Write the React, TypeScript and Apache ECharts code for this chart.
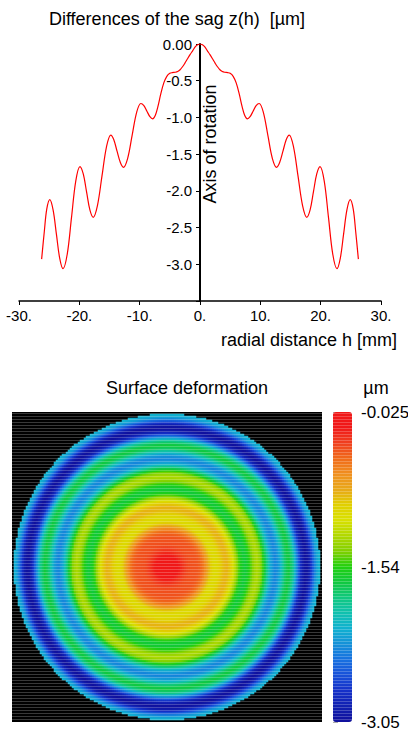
import React, { useEffect, useRef } from 'react';
import * as echarts from 'echarts';

// Profile of the sag difference z(h) [µm] versus radial distance h [mm]
const sagLeftH = [-26.25, -25.8, -25.4, -24.9, -24.35, -23.8, -23.25, -22.7, -22.0, -21.3, -20.6, -19.9, -19.35, -18.8, -18.25, -17.7, -17.0, -16.25, -15.5, -14.8, -14.3, -13.75, -13.2, -12.7, -12.0, -11.25, -10.5, -9.8, -9.3, -8.8, -8.3, -7.85, -7.4, -7.0, -6.5, -6.0, -5.5, -5.0, -4.6, -4.1, -3.7, -3.3, -2.9, -2.5, -2.1, -1.65, -1.2, -0.8, -0.4];
const sagLeftZ = [-2.93, -2.55, -2.25, -2.12, -2.26, -2.59, -2.92, -3.06, -2.86, -2.365, -1.87, -1.67, -1.77, -2.015, -2.26, -2.36, -2.2, -1.8, -1.4, -1.24, -1.3, -1.46, -1.615, -1.68, -1.56, -1.245, -0.93, -0.81, -0.84, -0.915, -0.99, -1.02, -0.97, -0.86, -0.68, -0.53, -0.44, -0.4, -0.39, -0.385, -0.375, -0.35, -0.31, -0.26, -0.205, -0.145, -0.09, -0.04, -0.01];
const sagRightH = [0, 0.4, 0.8, 1.2, 1.65, 2.1, 2.5, 2.9, 3.3, 3.7, 4.1, 4.6, 5.0, 5.5, 6.0, 6.5, 7.0, 7.4, 7.85, 8.3, 8.8, 9.3, 9.8, 10.5, 11.25, 12.0, 12.7, 13.2, 13.75, 14.3, 14.8, 15.5, 16.25, 17.0, 17.7, 18.25, 18.8, 19.35, 19.9, 20.6, 21.3, 22.0, 22.7, 23.25, 23.8, 24.35, 24.9, 25.4, 25.8, 26.25];
const sagRightZ = [0, -0.01, -0.04, -0.09, -0.145, -0.205, -0.26, -0.31, -0.35, -0.375, -0.385, -0.39, -0.4, -0.44, -0.53, -0.68, -0.86, -0.97, -1.02, -0.99, -0.915, -0.84, -0.81, -0.93, -1.245, -1.56, -1.68, -1.615, -1.46, -1.3, -1.24, -1.4, -1.8, -2.2, -2.36, -2.26, -2.015, -1.77, -1.67, -1.87, -2.365, -2.86, -3.06, -2.92, -2.59, -2.26, -2.12, -2.25, -2.55, -2.93];

// Axis ticks
const xTicks = { min: -30, max: 30, interval: 10 };
const yTicks = { min: -3.5, max: 0, interval: 0.5 };

// Surface deformation map (rotation of the profile)
const mapCells = 155;
const mapHalfSize = 25.3; // mm, half width of the square
const mapRadius = 24.95; // mm, aperture radius
const colorMin = -3.05;
const colorMax = -0.025;
const colorTicks = [-3.05, -1.54, -0.025];
const colorTickLabels = ['-3.05', '-1.54', '-0.025'];
const colorStops = ['#10109c', '#1020b0', '#1530c8', '#1850d8', '#1870e0', '#1590d8', '#10b0d0', '#10c0b0', '#10c880', '#10c840', '#20d010', '#80d000', '#b0d800', '#d8e000', '#e0d000', '#e8a818', '#f09020', '#f06a1a', '#f04020', '#f01818', '#f01818'];

const FONT = '"Liberation Sans", Arial, Helvetica, sans-serif';

function sagAt(r: number): number {
  for (let k = 1; k < sagRightH.length; k++) {
    if (r <= sagRightH[k]) {
      const t = (r - sagRightH[k - 1]) / (sagRightH[k] - sagRightH[k - 1]);
      return sagRightZ[k - 1] + t * (sagRightZ[k] - sagRightZ[k - 1]);
    }
  }
  return sagRightZ[sagRightZ.length - 1];
}

function buildOption() {
  const lineData: number[][] = [];
  sagLeftH.forEach((h, i) => lineData.push([h, sagLeftZ[i]]));
  sagRightH.forEach((h, i) => lineData.push([h, sagRightZ[i]]));

  const cats: string[] = [];
  for (let i = 0; i < mapCells; i++) cats.push(String(i));
  const heat: number[][] = [];
  const step = (2 * mapHalfSize) / mapCells;
  for (let i = 0; i < mapCells; i++) {
    const u = -mapHalfSize + (i + 0.5) * step;
    for (let j = 0; j < mapCells; j++) {
      const v = -mapHalfSize + (j + 0.5) * step;
      const r = Math.sqrt(u * u + v * v);
      if (r <= mapRadius) heat.push([i, j, sagAt(r)]);
    }
  }

  const stripes: any[] = [];
  for (let y = 413; y < 722; y += 3) {
    stripes.push({
      type: 'line',
      z: 100,
      silent: true,
      shape: { x1: 12, y1: y + 0.5, x2: 322, y2: y + 0.5 },
      style: { stroke: 'rgba(255,255,255,0.22)', lineWidth: 1 },
    });
    stripes.push({
      type: 'line',
      z: 100,
      silent: true,
      shape: { x1: 333, y1: y + 0.5, x2: 352, y2: y + 0.5 },
      style: { stroke: 'rgba(255,255,255,0.22)', lineWidth: 1 },
    });
  }

  const txt = (x: number, y: number, text: string, size: number, align = 'center', rotation = 0) => ({
    type: 'text',
    x,
    y,
    rotation,
    z: 110,
    silent: true,
    style: {
      text,
      fill: '#000',
      fontSize: size,
      fontFamily: FONT,
      align,
      textAlign: align,
      verticalAlign: 'middle',
      textVerticalAlign: 'middle',
    },
  });

  return {
    animation: false,
    backgroundColor: '#fff',
    textStyle: { fontFamily: FONT },
    grid: [
      { left: 19, top: 44, width: 362, height: 257, outerBoundsMode: 'none', containLabel: false },
      { left: 12, top: 412, width: 310, height: 310, show: true, backgroundColor: '#000', borderWidth: 0, outerBoundsMode: 'none', containLabel: false },
      { left: 333, top: 412, width: 19, height: 310, show: false, outerBoundsMode: 'none', containLabel: false },
      { left: 200, top: 44, width: 181, height: 257, show: false, outerBoundsMode: 'none', containLabel: false },
    ],
    xAxis: [
      {
        type: 'value',
        gridIndex: 0,
        min: xTicks.min,
        max: xTicks.max,
        interval: xTicks.interval,
        axisLine: { onZero: false, lineStyle: { color: '#000', width: 1.5 } },
        axisTick: { show: true, length: 4, lineStyle: { color: '#000', width: 1 } },
        axisLabel: { color: '#000', fontSize: 15, fontFamily: FONT, margin: 7, formatter: (v: number) => `${v}.` },
        splitLine: { show: false },
      },
      { type: 'category', gridIndex: 1, data: cats, show: false },
      { type: 'value', gridIndex: 2, show: false, min: 0, max: 1 },
      { type: 'value', gridIndex: 3, show: false, min: 0, max: xTicks.max },
    ],
    yAxis: [
      {
        type: 'value',
        gridIndex: 0,
        min: yTicks.min,
        max: yTicks.max,
        interval: yTicks.interval,
        show: false,
      },
      { type: 'category', gridIndex: 1, data: cats, show: false },
      {
        type: 'value',
        gridIndex: 2,
        position: 'right',
        min: colorMin,
        max: colorMax,
        axisLine: { show: false },
        splitLine: { show: false },
        axisTick: { show: true, length: 5, customValues: colorTicks, lineStyle: { color: '#aaa' } },
        axisLabel: {
          show: true,
          customValues: colorTicks,
          margin: 9,
          color: '#000',
          fontSize: 17,
          fontFamily: FONT,
          formatter: (v: number) => {
            const k = colorTicks.findIndex((c) => Math.abs(c - v) < 1e-6);
            return k >= 0 ? colorTickLabels[k] : '';
          },
        },
      },
      {
        type: 'value',
        gridIndex: 3,
        position: 'left',
        min: yTicks.min,
        max: yTicks.max,
        interval: yTicks.interval,
        axisLine: { show: true, onZero: false, lineStyle: { color: '#000', width: 2 } },
        axisTick: { show: true, length: 4, lineStyle: { color: '#000', width: 1 } },
        axisLabel: {
          color: '#000',
          fontSize: 15,
          fontFamily: FONT,
          margin: 8,
          formatter: (v: number) => (v <= yTicks.min + 1e-9 ? '' : v === 0 ? '0.00' : v.toFixed(1)),
        },
        splitLine: { show: false },
      },
    ],
    visualMap: {
      type: 'continuous',
      seriesIndex: 1,
      dimension: 2,
      min: colorMin,
      max: colorMax,
      calculable: false,
      hoverLink: false,
      show: true,
      left: 333,
      top: 412,
      padding: 0,
      itemWidth: 19,
      itemHeight: 310,
      inRange: { color: colorStops },
    },
    series: [
      {
        type: 'line',
        xAxisIndex: 0,
        yAxisIndex: 0,
        data: lineData,
        smooth: 0.35,
        showSymbol: false,
        lineStyle: { color: '#ff0000', width: 1.2 },
        silent: true,
      },
      {
        type: 'heatmap',
        xAxisIndex: 1,
        yAxisIndex: 1,
        data: heat,
        progressive: 0,
        silent: true,
        itemStyle: { borderWidth: 0 },
      },
    ],
    graphic: [
      ...stripes,
      txt(177, 19, 'Differences of the sag z(h)\u00a0\u00a0[µm]', 18),
      txt(210, 144, 'Axis of rotation', 18, 'center', Math.PI / 2),
      txt(397, 340, 'radial distance h [mm]', 18, 'right'),
      txt(187, 388, 'Surface deformation', 18),
      txt(376, 388, 'µm', 18),
    ],
  };
}

export default function App() {
  const ref = useRef<HTMLDivElement>(null);
  useEffect(() => {
    document.body.style.margin = '0';
    if (!ref.current) return;
    const chart = echarts.init(ref.current, null, { renderer: 'svg' });
    chart.setOption(buildOption() as any);
    return () => chart.dispose();
  }, []);
  return <div ref={ref} style={{ width: 408, height: 731 }} />;
}
